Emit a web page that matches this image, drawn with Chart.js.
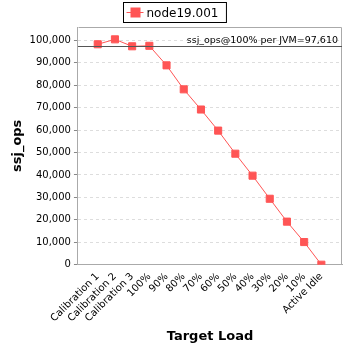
<!DOCTYPE html>
<html>
<head>
<meta charset="utf-8">
<script src="https://cdn.jsdelivr.net/npm/chart.js@4"></script>
<style>
  html, body { margin: 0; padding: 0; background: #fff; }
  #wrap { width: 348px; height: 348px; }
</style>
</head>
<body>
<div id="wrap"><canvas id="graphicC"></canvas></div>
<script>
const loadLabels = ['Calibration 1', 'Calibration 2', 'Calibration 3', '100%', '90%', '80%', '70%',
    '60%', '50%', '40%', '30%', '20%', '10%', 'Active Idle'];
const ssjOps = [98300, 100500, 97400, 97610, 88900, 78200, 69200, 59800, 49500, 39700, 29400, 19200, 10100, 0];
const yTicks = [0, 10000, 20000, 30000, 40000, 50000, 60000, 70000, 80000, 90000, 100000];
const seriesName = 'node19.001';
const refValue = 97610;

const red = 'rgb(255, 85, 85)';
const font = 'DejaVu Sans';

const fmt = (v) => v.toLocaleString('en-US');

// plot frame, reference line + legend box
const extras = {
    id: 'extras',
    beforeDatasetsDraw(chart) {
        const ctx = chart.ctx;
        const a = chart.chartArea;
        ctx.save();
        ctx.strokeStyle = '#aaa';
        ctx.lineWidth = 1;
        ctx.beginPath();
        ctx.moveTo(Math.round(a.left) + 0.5, Math.round(a.top) + 0.5);
        ctx.lineTo(Math.round(a.right) - 0.5, Math.round(a.top) + 0.5);
        ctx.lineTo(Math.round(a.right) - 0.5, Math.round(a.bottom));
        ctx.stroke();
        ctx.restore();
    },
    afterDatasetsDraw(chart) {
        const ctx = chart.ctx;
        const area = chart.chartArea;
        const y = Math.round(chart.scales.y.getPixelForValue(refValue)) + 0.5;
        ctx.save();
        ctx.strokeStyle = '#555';
        ctx.lineWidth = 1;
        ctx.beginPath();
        ctx.moveTo(area.left, y);
        ctx.lineTo(area.right, y);
        ctx.stroke();
        ctx.fillStyle = '#000';
        ctx.font = '9.5px "' + font + '"';
        ctx.textAlign = 'right';
        ctx.textBaseline = 'bottom';
        ctx.fillText('ssj_ops@100% per JVM=' + fmt(refValue), area.right - 4, y - 1);

        // legend
        ctx.font = '12px "' + font + '"';
        const tw = ctx.measureText(seriesName).width;
        const bw = 26 + tw + 5;
        const bx = Math.round(174 - bw / 2) + 0.5;
        const by = 2.5;
        ctx.strokeStyle = '#000';
        ctx.strokeRect(bx, by, bw, 20);
        ctx.strokeStyle = red;
        ctx.beginPath();
        ctx.moveTo(bx + 3, by + 10);
        ctx.lineTo(bx + 20, by + 10);
        ctx.stroke();
        ctx.fillStyle = red;
        ctx.fillRect(bx + 7, by + 5, 10, 10);
        ctx.fillStyle = '#000';
        ctx.textAlign = 'left';
        ctx.textBaseline = 'middle';
        ctx.fillText(seriesName, bx + 23, by + 11);
        ctx.restore();
    }
};

new Chart(document.getElementById('graphicC'), {
    type: 'line',
    data: {
        datasets: [{
            label: seriesName,
            data: ssjOps.map((v, i) => ({ x: i, y: v })),
            borderColor: red,
            backgroundColor: red,
            borderWidth: 1,
            pointStyle: 'rect',
            pointRadius: 5,
            pointHoverRadius: 5,
            clip: 0,
            tension: 0
        }]
    },
    plugins: [extras],
    options: {
        responsive: true,
        maintainAspectRatio: false,
        animation: false,
        layout: { padding: { top: 27, right: 6, left: 10, bottom: 4 } },
        plugins: { legend: { display: false }, tooltip: { enabled: false } },
        scales: {
            x: {
                type: 'linear',
                min: -1.15,
                max: 14.2,
                afterBuildTicks: (axis) => { axis.ticks = loadLabels.map((l, i) => ({ value: i })); },
                grid: { display: false, drawTicks: true, tickLength: 4, color: '#888' },
                border: { color: '#aaa' },
                ticks: {
                    autoSkip: false,
                    maxRotation: 45,
                    minRotation: 45,
                    padding: 2,
                    color: '#000',
                    font: { family: font, size: 10 },
                    callback: (v) => loadLabels[v]
                },
                title: {
                    display: true,
                    text: 'Target Load',
                    color: '#000',
                    font: { family: font, size: 13, weight: 'bold' },
                    padding: { top: 2, bottom: 0 }
                }
            },
            y: {
                min: 0,
                max: 106000,
                afterBuildTicks: (axis) => { axis.ticks = yTicks.map(v => ({ value: v })); },
                grid: {
                    color: '#ddd',
                    tickColor: '#888',
                    tickLength: 4,
                    drawTicks: true
                },
                border: { color: '#aaa', dash: [3, 3], display: true },
                ticks: {
                    color: '#000',
                    padding: 3,
                    font: { family: font, size: 10 },
                    callback: (v) => fmt(v)
                },
                title: {
                    display: true,
                    text: 'ssj_ops',
                    color: '#000',
                    font: { family: font, size: 13, weight: 'bold' },
                    padding: { top: 0, bottom: 1 }
                }
            }
        }
    }
});
</script>
</body>
</html>
